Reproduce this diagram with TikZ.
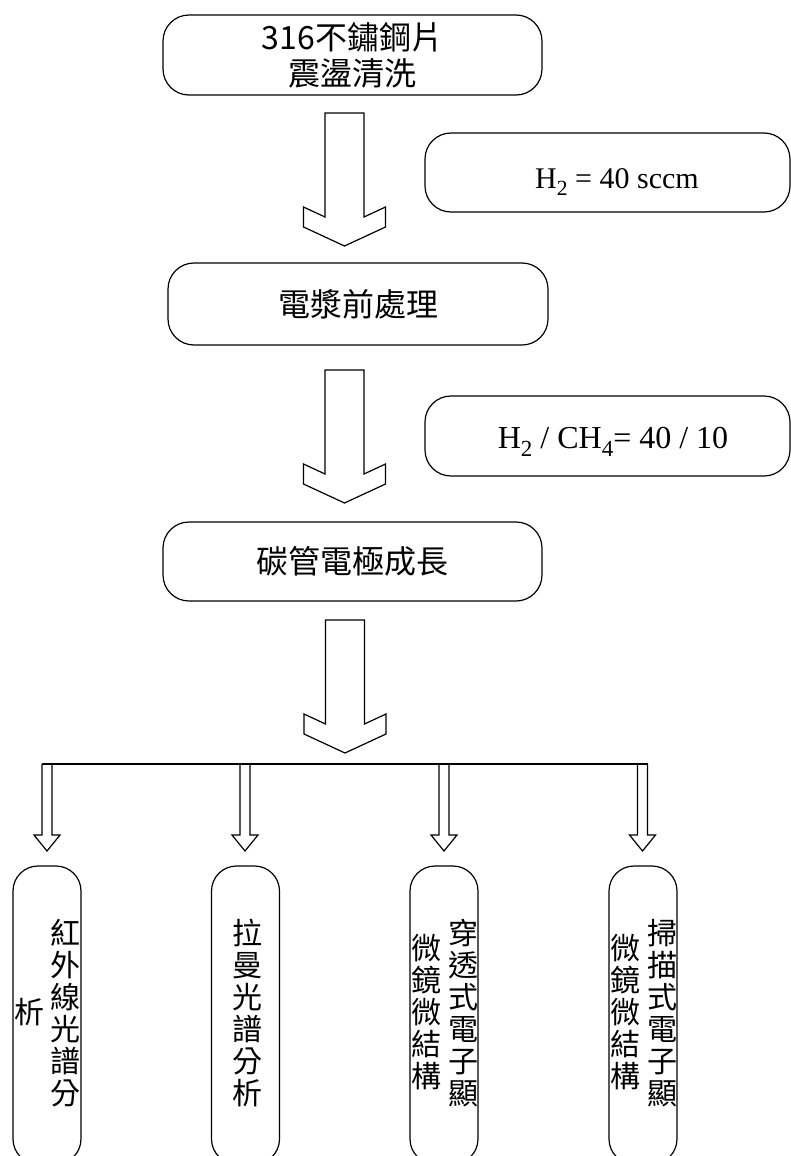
\documentclass[tikz,border=0pt]{standalone}
\usepackage{fontspec}
\setmainfont{Liberation Serif}
\newfontfamily\cjk{Noto Sans CJK TC}
\newcommand\gsub[1]{\raisebox{-0.26em}{\scalebox{0.72}{#1}}}
\tikzset{
  flowbox/.style={draw, line width=1.2pt, rounded corners=26pt, inner sep=0pt},
  pill/.style={draw, line width=1.2pt, rounded corners=25pt, minimum width=68pt, minimum height=298pt, inner sep=0pt},
  cjktext/.style={font=\cjk\fontsize{32}{36}\selectfont, align=center},
  vtext/.style={font=\cjk\fontsize{30}{32}\selectfont, align=center, inner sep=0pt},
  gastext/.style={inner sep=0pt},
  arrowline/.style={draw, line width=1.2pt, line join=miter},
  bigarrow/.pic={\path[arrowline] (-19.5,0) -- (19.5,0) -- (19.5,104) -- (41,94) -- (41,114) -- (0,133) -- (-41,114) -- (-41,94) -- (-19.5,104) -- cycle;},
  smallarrow/.pic={\path[arrowline] (-5,0) -- (-5,71) -- (-13,71) -- (0,87) -- (13,71) -- (5,71) -- (5,0);}
}
\begin{document}
\begin{tikzpicture}[x=1pt,y=-1pt]
\clip (0,0) rectangle (791,1156);
\fill[white] (0,0) rectangle (791,1156);

% main process boxes
\node[flowbox, cjktext, minimum width=379pt, minimum height=80pt] (b1) at (352.5,55) {316不鏽鋼片\\震盪清洗};
\node[flowbox, cjktext, minimum width=380pt, minimum height=82pt] (b2) at (358,304) {電漿前處理};
\node[flowbox, cjktext, minimum width=379pt, minimum height=79pt] (b3) at (352.5,561.5) {碳管電極成長};

% gas condition boxes
\node[flowbox, minimum width=365pt, minimum height=79pt] (g1) at (607.5,172.5) {};
\node[gastext, anchor=base, font=\fontsize{30}{34}\selectfont] (g1t) at (617,188) {H\gsub{2} = 40 sccm};
\node[flowbox, minimum width=365pt, minimum height=80pt] (g2) at (607.5,436) {};
\node[gastext, anchor=base, font=\fontsize{32}{36}\selectfont] (g2t) at (613,448) {H\gsub{2} / CH\gsub{4}= 40 / 10};

% big block arrows
\coordinate (a1) at (344.5,113);
\coordinate (a2) at (344.5,370);
\coordinate (a3) at (345,620);
\pic at (a1) {bigarrow};
\pic at (a2) {bigarrow};
\pic at (a3) {bigarrow};

% branching
\coordinate (s1) at (47,764);
\coordinate (s2) at (245,764);
\coordinate (s3) at (444,764);
\coordinate (s4) at (642.5,764);
\draw[line width=1.2pt] ([xshift=-5pt]s1) -- ([xshift=5pt]s4);
\pic at (s1) {smallarrow};
\pic at (s2) {smallarrow};
\pic at (s3) {smallarrow};
\pic at (s4) {smallarrow};

% analysis pills
\node[pill] (p1) at (47,1015) {};
\node[pill] (p2) at (245.5,1015) {};
\node[pill] (p3) at (444,1015) {};
\node[pill] (p4) at (643,1015) {};

\node[vtext] (t1a) at (65,1013) {紅\\外\\線\\光\\譜\\分};
\node[vtext] (t1b) at (29,1012) {析};
\node[vtext] (t2) at (247,1013) {拉\\曼\\光\\譜\\分\\析};
\node[vtext] (t3a) at (463,1013) {穿\\透\\式\\電\\子\\顯};
\node[vtext] (t3b) at (426,1012) {微\\鏡\\微\\結\\構};
\node[vtext] (t4a) at (662,1013) {掃\\描\\式\\電\\子\\顯};
\node[vtext] (t4b) at (625,1012) {微\\鏡\\微\\結\\構};
\end{tikzpicture}
\end{document}
